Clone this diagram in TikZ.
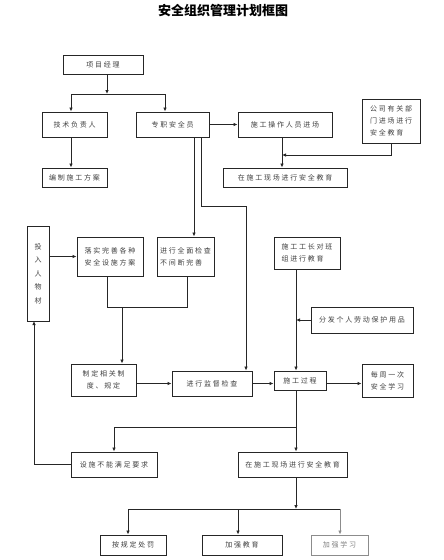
\documentclass[tikz,border=0pt]{standalone}
\usepackage{fontspec}
\newfontfamily\cjk[LetterSpace=25]{Noto Sans CJK SC}
\newfontfamily\cjktitle{Noto Sans CJK SC}
\usetikzlibrary{arrows.meta}
\begin{document}
\begin{tikzpicture}[x=1pt,y=-1pt,
  box/.style={draw=black!85, line width=0.9pt, inner sep=1pt, text=black!75,
    font=\cjk\fontsize{7}{12}\selectfont, align=center},
  lbox/.style={box, align=left},
  ln/.style={draw=black!85, line width=0.8pt},
  arr/.style={ln, -{Latex[length=4pt,width=3.5pt]}}]
\useasboundingbox (0,0) rectangle (444,560);
\fill[white] (0,0) rectangle (444,560);
\node[font=\cjktitle\bfseries\fontsize{13}{14}\selectfont] (title) at (223,11) {安全组织管理计划框图};
% boxes
\node[box, minimum width=80pt, minimum height=19pt] (pm) at (103,64.5) {项目经理};
\node[box, minimum width=65pt, minimum height=25pt] (tech) at (74.5,124.5) {技术负责人};
\node[box, minimum width=73pt, minimum height=25pt] (safe) at (172.5,124.5) {专职安全员};
\node[box, minimum width=94pt, minimum height=25pt] (work) at (285,124.5) {施工操作人员进场};
\node[lbox, minimum width=58pt, minimum height=44pt] (comp) at (391,121) {公司有关部\\门进场进行\\安全教育};
\node[box, minimum width=65pt, minimum height=19pt] (plan) at (74.5,177.5) {编制施工方案};
\node[box, minimum width=124pt, minimum height=19pt] (edu1) at (285,177.5) {在施工现场进行安全教育};
\node[box, minimum width=22pt, minimum height=95pt, font=\cjk\fontsize{7}{13.5}\selectfont] (invest) at (38,273.5) {投\\入\\人\\物\\材};
\node[box, minimum width=66pt, minimum height=39pt] (impl) at (110,256.5) {落实完善各种\\安全设施方案};
\node[lbox, minimum width=57pt, minimum height=39pt] (check) at (185.5,256.5) {进行全面检查\\不间断完善};
\node[lbox, minimum width=66pt, minimum height=32pt] (fore) at (307,253) {施工工长对班\\组进行教育};
\node[box, minimum width=102pt, minimum height=26pt] (dist) at (362,320) {分发个人劳动保护用品};
\node[box, minimum width=65pt, minimum height=32pt] (rule) at (103.5,380) {制定相关制\\度、规定};
\node[box, minimum width=80pt, minimum height=25pt] (sup) at (212,383.5) {进行监督检查};
\node[box, minimum width=52pt, minimum height=19pt] (proc) at (300,380.5) {施工过程};
\node[box, minimum width=51pt, minimum height=33pt] (week) at (387.5,380.5) {每周一次\\安全学习};
\node[box, minimum width=86pt, minimum height=25pt] (fail) at (114,464.5) {设施不能满足要求};
\node[box, minimum width=109pt, minimum height=25pt] (edu2) at (292.5,464.5) {在施工现场进行安全教育};
\node[box, minimum width=66pt, minimum height=20pt] (pun) at (133,545) {按规定处罚};
\node[box, minimum width=80pt, minimum height=20pt] (edu3) at (242,545) {加强教育};
\node[box, draw=black!45, text=black!50, minimum width=57pt, minimum height=20pt] (learn) at (339.5,545) {加强学习};
% helper coordinates
\coordinate (j1) at (107,94);
\coordinate (j1a) at (71,94);
\coordinate (j1b) at (165,94);
\coordinate (c1) at (282,155);
\coordinate (s1) at (194,137);
\coordinate (s2) at (201,137);
\coordinate (s3) at (246,206);
\coordinate (m1) at (107,307);
\coordinate (m2) at (187,307);
\coordinate (m3) at (122,307);
\coordinate (v1) at (296,320);
\coordinate (p1) at (296,427);
\coordinate (p2) at (114,427);
\coordinate (f1) at (34,321);
\coordinate (q1) at (296,509);
\coordinate (q2) at (128,509);
\coordinate (q3) at (238,509);
\coordinate (q4) at (340,509);
% connectors
\draw[arr] (pm.south -| j1) -- (j1);
\draw[ln] (j1a) -- (j1b);
\draw[arr] (j1a) -- (j1a |- tech.north);
\draw[arr] (j1b) -- (j1b |- safe.north);
\draw[arr] (safe.east) -- (work.west);
\draw[arr] (tech.south -| j1a) -- (plan.north -| j1a);
\draw[arr] (work.south -| c1) -- (edu1.north -| c1);
\draw[arr] (comp.south) |- (c1);
\draw[arr] (s1) -- (s1 |- check.north);
\draw[arr] (s2) |- (s3) -- (s3 |- sup.north);
\draw[arr] (invest.east |- impl.west) -- (impl.west);
\draw[ln] (impl.south -| m1) |- (m2) -- (check.south -| m2);
\draw[arr] (m3) -- (m3 |- rule.north);
\draw[arr] (rule.east |- sup.west) -- (sup.west);
\draw[arr] (sup.east) -- (sup.east -| proc.west);
\draw[arr] (proc.east |- sup.east) -- (week.west |- sup.east);
\draw[arr] (fore.south -| v1) -- (proc.north -| v1);
\draw[arr] (dist.west |- v1) -- (v1);
\draw[ln] (proc.south -| p1) -- (p1) -- (p2);
\draw[arr] (p2) -- (fail.north -| p2);
\draw[arr] (p1) -- (edu2.north -| p1);
\draw[arr] (fail.west) -| (f1);
\draw[arr] (edu2.south -| q1) -- (q1);
\draw[ln] (q2) -- (q4);
\draw[arr] (q2) -- (pun.north -| q2);
\draw[arr] (q3) -- (edu3.north -| q3);
\draw[arr, draw=black!45] (q4) -- (learn.north -| q4);
\end{tikzpicture}
\end{document}
